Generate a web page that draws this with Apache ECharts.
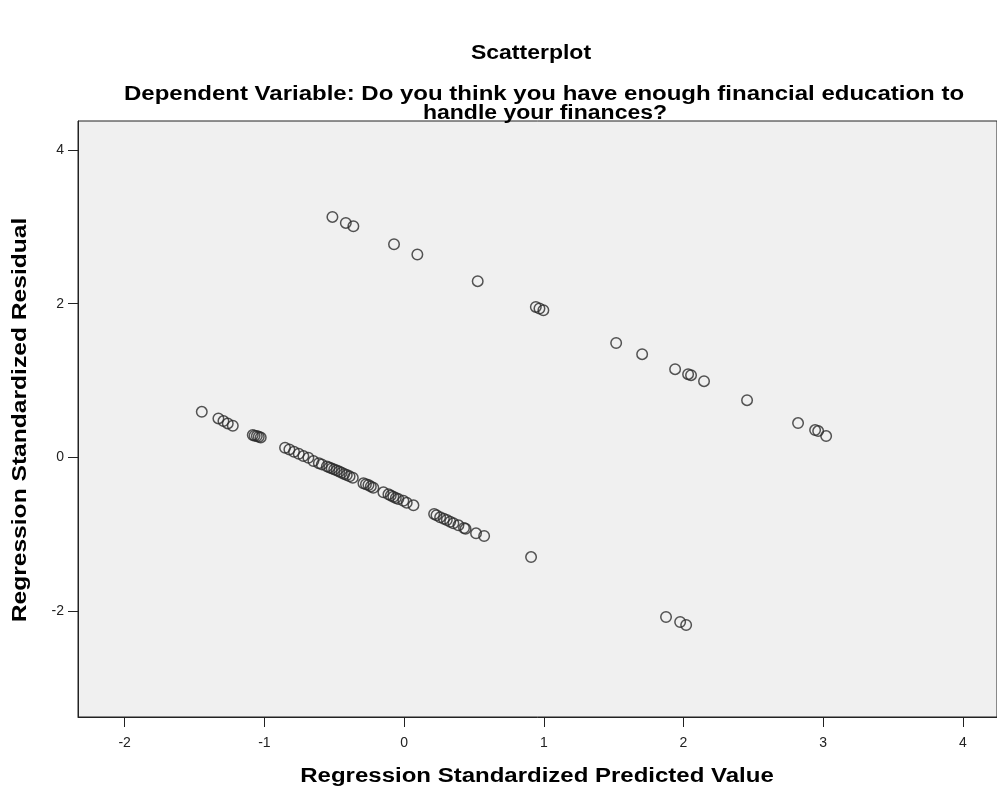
<html>
<head>
    <meta charset="utf-8">
    <title>Scatterplot</title>
    <script src="https://cdn.jsdelivr.net/npm/echarts@6/dist/echarts.min.js"></script>
    <style>
        html, body { margin: 0; padding: 0; background: #fff; }
        #chartMain { width: 997px; height: 791px; }
    </style>
</head>
<body>
<div id="chartMain"></div>
<script type="text/javascript">
    // regression standardized predicted value (x) and residual (y)
    var predicted = [
        -0.513, -0.417, -0.363, -0.072, 0.095, 0.527, 0.943, 0.969, 0.997, 1.518,
        1.704, 1.940, 2.033, 2.054, 2.147, 2.455, 2.820, 2.942, 2.964, 3.021,
        -1.448, -1.329, -1.293, -1.262, -1.226, -1.083, -1.070, -1.054, -1.040, -1.026,
        -0.852, -0.821, -0.788, -0.754, -0.721, -0.685, -0.649, -0.610, -0.589, -0.553,
        -0.535, -0.518, -0.500, -0.482, -0.464, -0.446, -0.428, -0.410, -0.390, -0.367,
        -0.291, -0.273, -0.255, -0.238, -0.220, -0.148, -0.112, -0.095, -0.077, -0.059,
        -0.041, -0.005, 0.019, 0.067, 0.215, 0.232, 0.258, 0.285, 0.306, 0.330,
        0.353, 0.389, 0.429, 0.440, 0.515, 0.573, 0.909, 1.875, 1.976, 2.019
    ];
    var residual = [
        3.129, 3.051, 3.008, 2.774, 2.640, 2.293, 1.958, 1.937, 1.915, 1.488,
        1.343, 1.148, 1.083, 1.070, 0.992, 0.745, 0.446, 0.355, 0.342, 0.277,
        0.593, 0.507, 0.472, 0.442, 0.411, 0.290, 0.283, 0.277, 0.268, 0.260,
        0.125, 0.104, 0.073, 0.047, 0.017, -0.005, -0.048, -0.075, -0.091, -0.117,
        -0.130, -0.143, -0.156, -0.169, -0.184, -0.200, -0.215, -0.230, -0.247, -0.265,
        -0.338, -0.350, -0.360, -0.378, -0.395, -0.455, -0.481, -0.497, -0.512, -0.527,
        -0.542, -0.564, -0.590, -0.624, -0.737, -0.752, -0.780, -0.800, -0.815, -0.838,
        -0.858, -0.884, -0.919, -0.930, -0.988, -1.023, -1.297, -2.077, -2.142, -2.181
    ];
    var xTicks = [-2, -1, 0, 1, 2, 3, 4];
    var yTicks = [-2, 0, 2, 4];

    var points = [];
    for (var i = 0; i < predicted.length; i++) {
        points.push([predicted[i], residual[i]]);
    }

    var font = '"Liberation Sans", Arial, sans-serif';

    // the SPSS export has wide lettering, so texts get a stretch along their length
    function label(text, x, y, size, stretch, rotation) {
        return {
            type: 'text', x: x, y: y, scaleX: stretch, rotation: rotation || 0,
            style: {
                text: text, fill: '#000', align: 'center', verticalAlign: 'middle',
                font: 'bold ' + size + 'px ' + font
            }
        };
    }

    var myChart = echarts.init(document.getElementById('chartMain'));
    var option = {
        animation: false,
        backgroundColor: '#fff',
        graphic: [
            label('Scatterplot', 531, 53, 20, 1.15),
            label('Dependent Variable: Do you think you have enough financial education to', 544, 94, 20, 1.2),
            label('handle your finances?', 545, 113, 20, 1.15),
            label('Regression Standardized Predicted Value', 537, 776, 20, 1.2),
            label('Regression Standardized Residual', 20, 420, 20, 1.23, Math.PI / 2)
        ],
        grid: {
            left: 78, right: 0, top: 121, bottom: 74,
            show: true,
            backgroundColor: '#f0f0f0',
            borderColor: '#222',
            borderWidth: 1
        },
        xAxis: {
            type: 'value',
            min: -2.334, max: 4.244,
            axisLine: {show: true, onZero: false, lineStyle: {color: '#222', width: 1}},
            axisTick: {show: true, length: 10, customValues: xTicks, lineStyle: {color: '#222'}},
            axisLabel: {customValues: xTicks, margin: 19, fontFamily: font, fontSize: 14, color: '#222'},
            splitLine: {show: false}
        },
        yAxis: {
            type: 'value',
            min: -3.378, max: 4.377,
            axisLine: {show: true, onZero: false, lineStyle: {color: '#222', width: 1}},
            axisTick: {show: true, length: 10, customValues: yTicks, lineStyle: {color: '#222'}},
            axisLabel: {customValues: yTicks, margin: 14, fontFamily: font, fontSize: 14, color: '#222'},
            splitLine: {show: false}
        },
        series: [{
            type: 'scatter',
            data: points,
            symbol: 'circle',
            symbolSize: 10.5,
            itemStyle: {color: 'rgba(0,0,0,0)', borderColor: '#2a2a2a', borderWidth: 1.5}
        }]
    };
    myChart.setOption(option);
</script>
</body>
</html>
